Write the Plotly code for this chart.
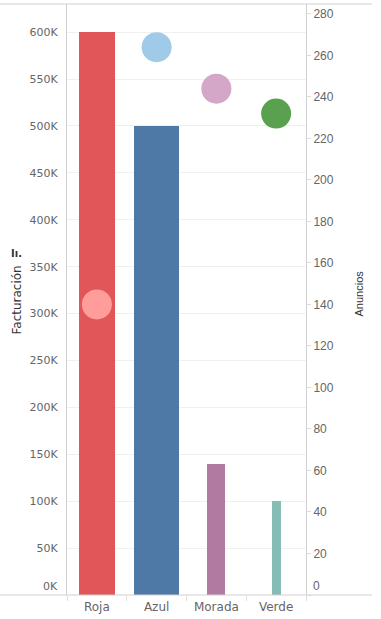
import plotly.graph_objects as go

# ---- data ----
categories = ["Roja", "Azul", "Morada", "Verde"]
facturacion = [600000, 500000, 140000, 100000]
anuncios = [140, 264, 244, 232]
left_tick_vals = [0, 50000, 100000, 150000, 200000, 250000, 300000, 350000, 400000, 450000, 500000, 550000, 600000]
left_tick_text = ["0K", "50K", "100K", "150K", "200K", "250K", "300K", "350K", "400K", "450K", "500K", "550K", "600K"]
right_tick_vals = [0, 20, 40, 60, 80, 100, 120, 140, 160, 180, 200, 220, 240, 260, 280]

# ---- styles ----
bar_colors = ["#E15759", "#4E79A7", "#B07AA1", "#86BCB6"]
dot_colors = ["#FF9D9A", "#A0CBE8", "#D4A6C8", "#59A14F"]
bar_widths = [0.6, 0.75, 0.3, 0.15]
LINE = "#d0d0d0"
GRID = "#f0f0f0"
LABEL = "#666666"

fig = go.Figure()
fig.add_trace(go.Bar(
    x=categories, y=facturacion, width=bar_widths,
    marker=dict(color=bar_colors, line=dict(width=0)),
    yaxis="y", hoverinfo="x+y",
))
fig.add_trace(go.Scatter(
    x=categories, y=anuncios, mode="markers",
    marker=dict(size=30, color=dot_colors, line=dict(width=0)),
    yaxis="y2",
))

# hide zero labels from axes; drawn as annotations (shifted up as in original)
left_text = ["" if v == 0 else t for v, t in zip(left_tick_vals, left_tick_text)]
right_text = ["" if v == 0 else str(v) for v in right_tick_vals]

fig.update_layout(
    width=381, height=619,
    margin=dict(l=67, r=75, t=4, b=24, autoexpand=False),
    paper_bgcolor="white", plot_bgcolor="white",
    showlegend=False,
    bargap=0,
    xaxis=dict(
        type="category", range=[-0.5, 3.5], automargin=False,
        showline=False, showgrid=False, zeroline=False,
        ticks="outside", tickson="boundaries", ticklen=5, tickcolor="#e0e0e0",
        ticklabelstandoff=3,
        tickfont=dict(family="DejaVu Sans", size=12, color=LABEL),
        fixedrange=True,
    ),
    yaxis=dict(
        range=[0, 630000], automargin=False,
        tickvals=left_tick_vals, ticktext=left_text,
        showgrid=True, gridcolor=GRID, gridwidth=1,
        zeroline=False,
        showline=True, linecolor=LINE, linewidth=1,
        ticks="", ticklabelstandoff=6,
        tickfont=dict(family="DejaVu Sans", size=11, color=LABEL),
    ),
    yaxis2=dict(
        range=[0, 284.8], overlaying="y", side="right", automargin=False,
        tickvals=right_tick_vals, ticktext=right_text,
        showgrid=False, zeroline=False,
        showline=True, linecolor=LINE, linewidth=1,
        ticks="outside", ticklen=4, tickcolor="#e0e0e0",
        tickfont=dict(family="Liberation Sans", size=12, color=LABEL),
    ),
    shapes=[
        dict(type="line", xref="paper", yref="paper", x0=-67/239, x1=305/239, y0=1, y1=1,
             line=dict(color=LINE, width=1)),
        dict(type="line", xref="paper", yref="paper", x0=-67/239, x1=305/239, y0=0, y1=0,
             line=dict(color=LINE, width=1)),
    ],
    annotations=[
        dict(text="0K", xref="paper", x=0, xanchor="right", xshift=-7,
             yref="y", y=0, yanchor="bottom", yshift=0, showarrow=False,
             font=dict(family="DejaVu Sans", size=11, color=LABEL)),
        dict(text="0", xref="paper", x=1, xanchor="left", xshift=5,
             yref="y2", y=0, yanchor="bottom", yshift=0, showarrow=False,
             font=dict(family="Liberation Sans", size=12, color=LABEL)),
        dict(text="Facturación", textangle=-90, xref="paper", x=0, xanchor="center", xshift=-51,
             yref="paper", y=0.5, yanchor="middle", yshift=-1, showarrow=False,
             font=dict(family="DejaVu Sans", size=12, color="#333333")),
        dict(text="<b>Iı.</b>", xref="paper", x=0, xanchor="center", xshift=-51,
             yref="paper", y=0.5, yanchor="middle", yshift=46, showarrow=False,
             font=dict(family="DejaVu Sans", size=10, color="#333333")),
        dict(text="Anuncios", textangle=-90, xref="paper", x=1, xanchor="center", xshift=52,
             yref="paper", y=0.5, yanchor="middle", yshift=6, showarrow=False,
             font=dict(family="Liberation Sans", size=11, color="#333333")),
    ],
)

fig.write_html("out.html", config={"displayModeBar": False},
               post_script="document.body.style.margin='0px';")
